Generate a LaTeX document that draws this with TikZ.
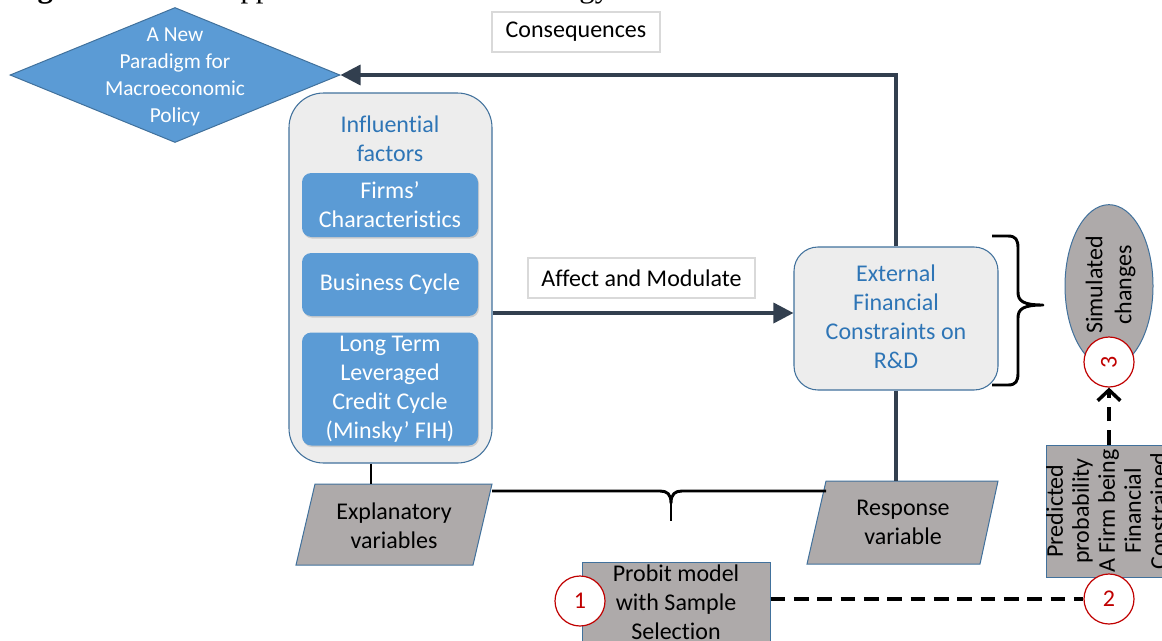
\documentclass[tikz,border=0pt]{standalone}
\usepackage{graphicx}
\usepackage{fontspec}
\setmainfont{Carlito}[Ligatures=NoCommon]
\newfontfamily\capfont{Liberation Serif}
\usetikzlibrary{shapes.geometric,arrows.meta,shadows,calc}
\definecolor{bluefill}{HTML}{5B9BD5}
\definecolor{blueline}{HTML}{41719C}
\definecolor{bluetext}{HTML}{2E75B6}
\definecolor{panel}{HTML}{EDEDED}
\definecolor{grayfill}{HTML}{AEAAAA}
\definecolor{navy}{HTML}{323F4F}
\definecolor{circred}{HTML}{C00000}
\definecolor{lightborder}{HTML}{D9D9D9}
\begin{document}
\begin{tikzpicture}[x=0.75pt,y=-0.75pt,
  every node/.style={font=\fontsize{18}{21.75}\selectfont},
  txt/.style={align=center, inner sep=0pt},
  panelbox/.style={draw=blueline, line width=0.8pt, fill=panel, inner sep=0pt},
  bluebox/.style={fill=bluefill, rounded corners=7pt, minimum width=132pt, inner sep=0pt,
    drop shadow={opacity=0.3,shadow xshift=0.8pt,shadow yshift=-1.2pt}, text=white, align=center},
  labelbox/.style={draw=lightborder, line width=1pt, fill=white, inner sep=0pt},
  grayshape/.style={draw=blueline, line width=0.75pt, fill=grayfill},
  numcirc/.style={circle, draw=circred, line width=0.9pt, fill=white, minimum size=37.5pt, inner sep=0pt, text=circred},
  conn/.style={navy, line width=2.6pt},
  tipconn/.style={conn, -{Triangle[length=15pt,width=15pt]}},
  dashconn/.style={black, line width=2.6pt, dash pattern=on 11pt off 6.5pt},
  bracestyle/.style={black, line width=2.2pt, line join=round},
]
\useasboundingbox (0,0) rectangle (1162,640);
\clip (0,0) rectangle (1162,640);

% clipped caption
\node[anchor=base west, inner sep=0pt, font=\capfont\fontsize{23}{24}\selectfont] (cap) at (10,-3)
  {\textbf{Figure 3.1:} The Applied Research Methodology};

% diamond
\node[diamond, fill=bluefill, draw=blueline, line width=0.75pt, minimum width=247.5pt, minimum height=101.25pt, inner sep=0pt] (diam) at (175,75) {};
\node[txt, text=white, font=\fontsize{16}{20.25}\selectfont] (diamtxt) at (175,77) {A New\\Paradigm for\\Macroeconomic\\Policy};

% label boxes
\node[labelbox, minimum width=126pt, minimum height=30pt] (conseq) at (576,32) {Consequences};
\node[labelbox, minimum width=170.25pt, minimum height=30pt] (affect) at (641.5,278) {Affect and Modulate};

% influential factors panel
\node[panelbox, rounded corners=26pt, minimum width=152.25pt, minimum height=277.5pt] (infl) at (390.5,278) {};
\node[txt, text=bluetext] (infllab) at (390,138.5) {Influential\\factors};
\node[bluebox, minimum height=48pt] (firms) at (390,205) {Firms’\\Characteristics};
\node[bluebox, minimum height=47.25pt] (bcycle) at (390,284.5) {Business Cycle};
\node[bluebox, minimum height=84.75pt] (credit) at (390,389) {Long Term\\Leveraged\\Credit Cycle\\(Minsky’ FIH)};

% external constraints
\node[panelbox, rounded corners=18pt, minimum width=153pt, minimum height=107.25pt] (ext) at (896,318.5) {};
\node[txt, text=bluetext] (exttxt) at (896,317) {External\\Financial\\Constraints on\\R\&D};

% connectors
\coordinate (ay) at (0,313);
\draw[tipconn] (ext.north) |- (diam.east);
\draw[tipconn] (infl.east |- ay) -- (ext.west |- ay);

% parallelograms
\path[grayshape] (315,484) -- (492,484) -- (473,565) -- (296,565) -- cycle;
\node[txt] (expl) at (394,525.5) {Explanatory\\variables};
\path[grayshape] (826,481) -- (998,481) -- (980,564) -- (807,564) -- cycle;
\node[txt] (resp) at (903,522.5) {Response\\variable};

\coordinate (expltop) at (371,484);
\coordinate (resptop) at (896,481);
\draw[black, line width=1.8pt] (expltop |- infl.south) -- (expltop);
\draw[conn] (ext.south) -- (resptop);

% horizontal brace
\coordinate (bL) at (492,491);
\coordinate (bR) at (826,491);
\coordinate (bC) at (671,503);
\draw[bracestyle] (bL) -- (660,491) .. controls (667,491) and (671,494) .. (bC)
  .. controls (671,494) and (675,491) .. (682,491) -- (bR);
\draw[bracestyle] (bC) -- (671,521);

% right brace
\draw[bracestyle] (992,236) -- (1008,236) .. controls (1016,236) and (1018,240) .. (1018,248)
  -- (1018,292) .. controls (1018,301) and (1023,305) .. (1043,305)
  .. controls (1023,305) and (1018,309) .. (1018,318)
  -- (1018,373) .. controls (1018,381) and (1016,385) .. (1008,385) -- (992,385);

% simulated changes
\node[ellipse, draw=blueline, line width=0.75pt, fill=grayfill, minimum width=66pt, minimum height=122pt, inner sep=0pt] (sim) at (1109,286) {};
\node[txt, rotate=90] (simtxt) at (1110.5,285) {Simulated\\changes};

% predicted box
\node[draw=blueline, line width=0.75pt, fill=grayfill, minimum width=100.5pt, minimum height=99pt, inner sep=0pt] (pred) at (1113,511) {};
\node[txt, rotate=90, font=\fontsize{18}{19.5}\selectfont] (predtxt) at (1106.5,511) {Predicted\\probability\\A Firm being\\Financial\\Constrained};

% probit
\node[draw=blueline, line width=0.75pt, fill=grayfill, minimum width=141pt, minimum height=66pt, inner sep=0pt] (probit) at (676,606) {};
\node[txt] (probtxt) at (676,602.5) {Probit model\\with Sample\\Selection};

% numbered circles and dashed links
\node[numcirc] (c3) at (1109,362) {\rotatebox{90}{3}};
\node[numcirc] (c2) at (1109,599) {2};
\node[numcirc] (c1) at (580,601) {1};
\draw[dashconn] (probit.east |- c2) -- (c2.west);
\draw[dashconn, -{Straight Barb[length=8pt,width=17pt]}] (c3 |- pred.north) -- (c3.south);
\end{tikzpicture}
\end{document}
